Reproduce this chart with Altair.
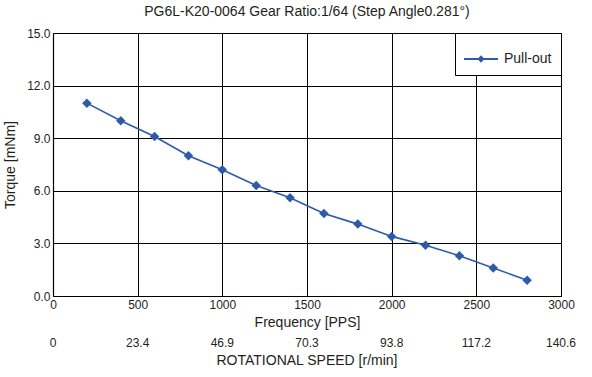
import altair as alt
import pandas as pd

# Data
freq = [200, 400, 600, 800, 1000, 1200, 1400, 1600, 1800, 2000, 2200, 2400, 2600, 2800]
torque = [11.0, 10.0, 9.1, 8.0, 7.2, 6.3, 5.6, 4.7, 4.1, 3.4, 2.9, 2.3, 1.6, 0.9]
series_name = "Pull-out"

tick_freq = [0, 500, 1000, 1500, 2000, 2500, 3000]
rpm_labels = ["0", "23.4", "46.9", "70.3", "93.8", "117.2", "140.6"]
y_ticks = [0, 3, 6, 9, 12, 15]

title_text = "PG6L-K20-0064 Gear Ratio:1/64 (Step Angle0.281°)"
x_title = "Frequency [PPS]"
x2_title = "ROTATIONAL SPEED [r/min]"
y_title = "Torque [mNm]"

FONT = "Liberation Sans"
INK = "#231f20"
BLUE = "#2e5ba8"

W, H = 508, 263

df = pd.DataFrame({"freq": freq, "torque": torque, "series": [series_name] * len(freq)})
df_rpm = pd.DataFrame({"freq": tick_freq, "rpm": rpm_labels})
df_title2 = pd.DataFrame({"t": [x2_title]})

xscale = alt.Scale(domain=[0, 3000], nice=False, zero=False)
yscale = alt.Scale(domain=[0, 15], nice=False)

xaxis = alt.Axis(values=tick_freq, format="d", title=x_title, grid=True,
                 gridColor="black", gridOpacity=1, gridWidth=1, ticks=False,
                 domainColor="black", domainWidth=1.2, labelFont=FONT, labelFontSize=12,
                 labelColor=INK, labelPadding=3, labelFlush=False, labelOverlap=False,
                 titleFont=FONT, titleFontSize=14,
                 titleFontWeight="normal", titleColor=INK, titlePadding=5)
yaxis = alt.Axis(values=y_ticks, format=".1f", title=y_title, grid=True,
                 gridColor="black", gridOpacity=1, gridWidth=1, ticks=False,
                 domainColor="black", domainWidth=1.2, labelFont=FONT, labelFontSize=12,
                 labelColor=INK, labelPadding=3, labelFlush=False, labelOverlap=False,
                 titleFont=FONT, titleFontSize=14,
                 titleFontWeight="normal", titleColor=INK, titlePadding=9)

legend_symbol = ("M-1,-0.06 L1,-0.06 L1,0.06 L-1,0.06 Z "
                 "M0,-0.22 L0.21,0 L0,0.22 L-0.21,0 Z")

line = alt.Chart(df).mark_line(strokeWidth=1.6, clip=False).encode(
    x=alt.X("freq:Q", scale=xscale, axis=xaxis),
    y=alt.Y("torque:Q", scale=yscale, axis=yaxis),
    color=alt.Color("series:N", scale=alt.Scale(range=[BLUE]),
                    legend=alt.Legend(title=None, orient="top-right", offset=0,
                                      symbolType=legend_symbol, symbolSize=1156,
                                      symbolFillColor=BLUE, symbolStrokeWidth=0,
                                      labelFont=FONT, labelFontSize=14, labelColor=INK,
                                      labelOffset=6, padding=9,
                                      strokeColor="black", fillColor="white")),
)

points = alt.Chart(df).mark_point(shape="diamond", filled=True, size=90, opacity=1).encode(
    x=alt.X("freq:Q", scale=xscale),
    y=alt.Y("torque:Q", scale=yscale),
    color=alt.value(BLUE),
)

rpm_text = alt.Chart(df_rpm).mark_text(font=FONT, fontSize=12, color=INK, baseline="middle").encode(
    x=alt.X("freq:Q", scale=xscale),
    y=alt.value(H + 47),
    text="rpm:N",
)

rpm_title = alt.Chart(df_title2).mark_text(font=FONT, fontSize=14, color=INK, baseline="middle").encode(
    x=alt.value(W / 2),
    y=alt.value(H + 65),
    text="t:N",
)

chart = alt.layer(line, points, rpm_text, rpm_title).properties(
    width=W, height=H,
    title=alt.TitleParams(title_text, font=FONT, fontSize=14, fontWeight="normal",
                          color=INK, anchor="middle", offset=8),
    autosize=alt.AutoSizeParams(type="none"),
    padding={"left": 53, "top": 33, "right": 31, "bottom": 81},
).configure_view(stroke="black", strokeWidth=1.2).configure(background="white")

chart.save("out.html", embed_options={"renderer": "svg", "actions": False})
